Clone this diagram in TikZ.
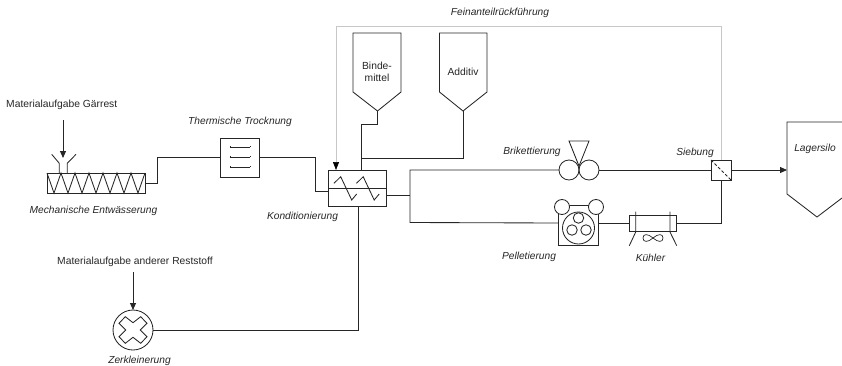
\documentclass[tikz,border=0pt]{standalone}
\usepackage{fontspec}
\setmainfont{Liberation Sans}
\usetikzlibrary{arrows.meta}
\tikzset{
  line/.style={draw=black!85,line width=0.85pt,line join=miter},
  flow/.style={line,-{Triangle[length=7pt,width=6pt]}},
  recycle/.style={draw=black!22,line width=0.7pt,-{Triangle[length=8pt,width=6pt,color=black]}},
  unit/.style={line,rectangle,inner sep=0pt,outer sep=0pt},
  disc/.style={line,circle,inner sep=0pt,outer sep=0pt},
  lab/.style={font=\fontsize{10.2}{12}\selectfont\itshape,inner sep=0pt,text=black!85},
  plain/.style={font=\fontsize{10.3}{12}\selectfont,inner sep=0pt,text=black!85,align=center},
}
\begin{document}
\begin{tikzpicture}[x=1pt,y=-1pt]
\useasboundingbox (0,0) rectangle (842,365);
% screw press
\node[unit,minimum width=98pt,minimum height=20pt] (screw) at (96,183) {};
\draw[line] (47,173) \foreach \i in {0,...,6}{ -- ({47+14*\i+7},193) -- ({47+14*(\i+1)},173)} ;
\draw[line] (59.3,173) -- (59.3,163.3) -- (51.7,154.3) (67.3,173) -- (67.3,163.3) -- (76,154.3);
\coordinate (feed1) at (63,120);
\coordinate (hopper) at (63,158);
\draw[flow] (feed1) -- (hopper);
% dryer
\node[unit,minimum size=39pt] (dryer) at (239.5,157.5) {};
\foreach \y in {147,157,167}{\draw[line,line width=0.7pt] (230,\y) -- (250,\y) (230,\y-1) -- (230,\y) (250,\y-1) -- (250,\y);}
% conditioner
\node[unit,minimum width=58pt,minimum height=36pt] (cond) at (357,188) {};
\draw[line] (cond.west) -- (cond.east);
\foreach \d in {0,22.5}{\draw[line] (334+\d,183.3) -- (340.7+\d,176.7) -- (351.7+\d,200) -- (356.7+\d,194);}
% silos
\draw[line] (353,92) -- (353,33) -- (401,33) -- (401,92) -- (377.5,111) -- cycle;
\coordinate (bindetip) at (377.5,111);
\coordinate (bindein) at (361,170);
\node[plain] (binde) at (377,72) {Binde-\\[0pt]mittel};
\draw[line] (439.5,92) -- (439.5,33) -- (487,33) -- (487,92) -- (463,111) -- cycle;
\coordinate (addtip) at (463,111);
\coordinate (addjoin) at (361,158);
\node[plain] (add) at (463,72) {Additiv};
% briquetting
\node[disc,minimum size=20pt] (rollL) at (569,170) {};
\node[disc,minimum size=20pt] (rollR) at (589,170) {};
\draw[line] (569,141) -- (589,141) -- (579,166) -- cycle;
% sieve
\node[unit,minimum size=20pt] (sieve) at (721,170) {};
\draw[line,dashed,dash pattern=on 3pt off 2pt] (sieve.north west) -- (sieve.south east);
% storage silo
\draw[line] (842,122) -- (787,122) -- (787,194) -- (817,217) -- (842,198);
\coordinate (lager) at (787,170);
% pelletiser
\node[unit,minimum size=40pt] (pellet) at (578,225) {};
\node[disc,fill=white,minimum size=15pt] at (562,207) {};
\node[disc,fill=white,minimum size=15pt] at (596,207) {};
\node[disc,minimum size=32pt] at (578.5,228) {};
\node[disc,minimum size=10.5pt] at (578.5,218) {};
\node[disc,minimum size=10.5pt] at (572,230) {};
\node[disc,minimum size=10.5pt] at (586,230) {};
% cooler
\node[unit,minimum width=47.4pt,minimum height=16pt] (cool) at (653,223) {};
\draw[line] (635.7,211.7) -- (635.7,232) -- (629.3,245.7) (670,211.7) -- (670,232) -- (676.7,245.7);
\draw[line,line width=0.7pt] (653,238) .. controls (648,233.5) and (643,233.5) .. (643,238) .. controls (643,242.5) and (648,242.5) .. (653,238) .. controls (658,233.5) and (663,233.5) .. (663,238) .. controls (663,242.5) and (658,242.5) .. (653,238);
% crusher
\node[disc,minimum size=40pt] (crush) at (133,330) {};
\draw[line] (133,322.7) -- (140.7,316.7) -- (147,323.3) -- (140.3,330) -- (147,336.7) -- (140.7,343.3) -- (133,337.3) -- (125.3,343.3) -- (119,336.7) -- (125.7,330) -- (119,323.3) -- (125.3,316.7) -- cycle;
\coordinate (feed2) at (133,272);
% connectors
\draw[line] (screw.east) -- (157,183) |- (dryer.west);
\coordinate (condin) at (328,191.5);
\draw[line] (dryer.east) -- (315,157.5) |- (condin);
\draw[line] (bindetip) -- (377.5,124) -- (361,124) -- (bindein);
\draw[line] (addtip) |- (addjoin);
\coordinate (split) at (410,195.5);
\draw[line] (split -| cond.east) -- (split);
\draw[line] (rollL.west) -- (410,170) -- (410,222.5) -- (pellet.west |- cool.west);
\draw[line] (rollR.east) -- (sieve.west);
\draw[line] (pellet.east |- cool.west) -- (cool.west);
\draw[line] (cool.east) -| (sieve.south);
\draw[flow] (sieve.east) -- (lager);
\draw[flow] (feed2) -- (crush.north);
\draw[line] (crush.east) -| (358,206);
\coordinate (recyclefrom) at (721,160);
\coordinate (recycleto) at (336,170);
\draw[recycle] (recyclefrom) |- (336,26) -- (recycleto);
% labels
\node[plain,anchor=west] (l1) at (6,105) {Materialaufgabe Gärrest};
\node[plain,anchor=west] (l2) at (57,262) {Materialaufgabe anderer Reststoff};
\node[lab] (l3) at (500,13) {Feinanteilrückführung};
\node[lab] (l4) at (240,122) {Thermische Trocknung};
\node[lab] (l5) at (93.5,211) {Mechanische Entwässerung};
\node[lab] (l6) at (302.5,217) {Konditionierung};
\node[lab] (l7) at (532,151.5) {Brikettierung};
\node[lab] (l8) at (695,152.5) {Siebung};
\node[lab] (l9) at (815,149) {Lagersilo};
\node[lab] (l10) at (529,257) {Pelletierung};
\node[lab] (l11) at (650.5,258) {Kühler};
\node[lab] (l12) at (139.5,361) {Zerkleinerung};
\end{tikzpicture}
\end{document}
